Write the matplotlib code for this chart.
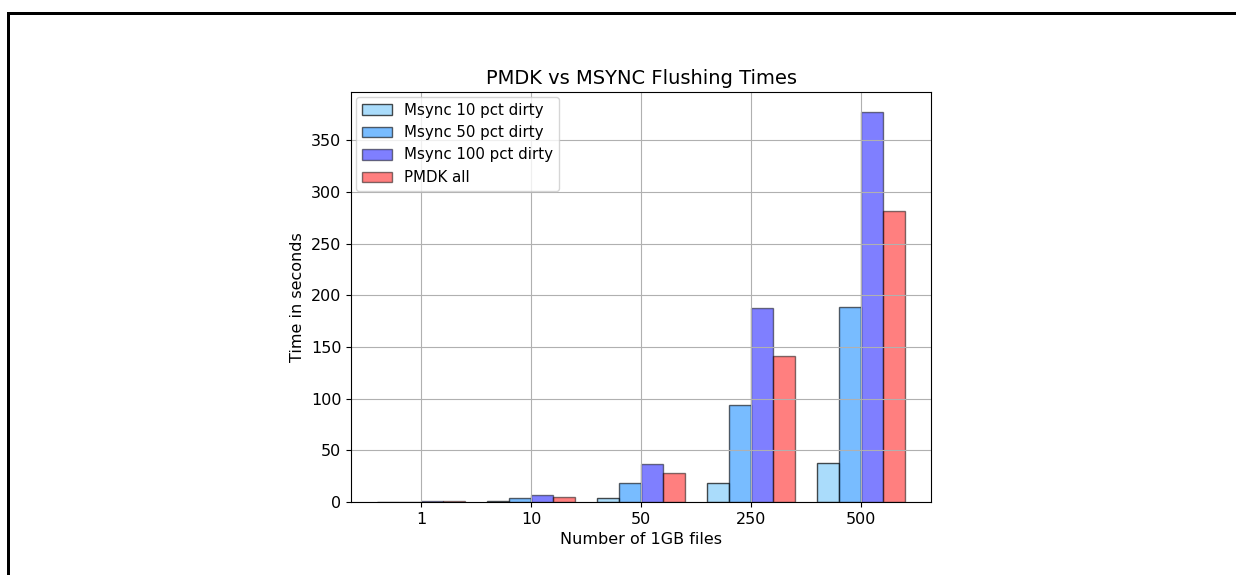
import numpy as np
import matplotlib
matplotlib.use('Agg')
import matplotlib.pyplot as plt
from matplotlib.lines import Line2D

files = ['1', '10', '50', '250', '500']
msync_10 = [0.1, 0.6, 3.5, 18.5, 38]
msync_50 = [0.4, 3.5, 18.5, 94, 189]
msync_100 = [0.8, 7, 37, 188, 378]
pmdk_all = [0.6, 5, 28, 141, 282]

W, H = 1236, 575
fig = plt.figure(figsize=(W / 100, H / 100), dpi=100)
ax = fig.add_axes([351 / W, (H - 502) / H, 580 / W, 410 / H])

fs = 11.5
x = np.arange(len(files))
w = 0.2
ax.bar(x - 1.5 * w, msync_10, w, color='lightskyblue', edgecolor='black', alpha=0.7, label='Msync 10 pct dirty')
ax.bar(x - 0.5 * w, msync_50, w, color='dodgerblue', edgecolor='black', alpha=0.6, label='Msync 50 pct dirty')
ax.bar(x + 0.5 * w, msync_100, w, color='blue', edgecolor='black', alpha=0.5, label='Msync 100 pct dirty')
ax.bar(x + 1.5 * w, pmdk_all, w, color='red', edgecolor='black', alpha=0.5, label='PMDK all')

ax.set_xticks(x)
ax.set_xticklabels(files)
ax.tick_params(labelsize=fs)
ax.set_xlabel('Number of 1GB files', fontsize=fs)
ax.set_ylabel('Time in seconds', fontsize=fs)
ax.set_title('PMDK vs MSYNC Flushing Times', fontsize=14)
ax.grid(True)
ax.legend(loc='upper left', fontsize=10.8, borderaxespad=0.3)

# outer frame of the screenshot
lw = 3 * 72 / 100
fig.add_artist(Line2D([7.5 / W, 7.5 / W], [0, (H - 12.5) / H], color='black', lw=lw))
fig.add_artist(Line2D([7.5 / W, 1], [(H - 12.5) / H, (H - 12.5) / H], color='black', lw=lw))

fig.savefig('out.png', dpi=100)
